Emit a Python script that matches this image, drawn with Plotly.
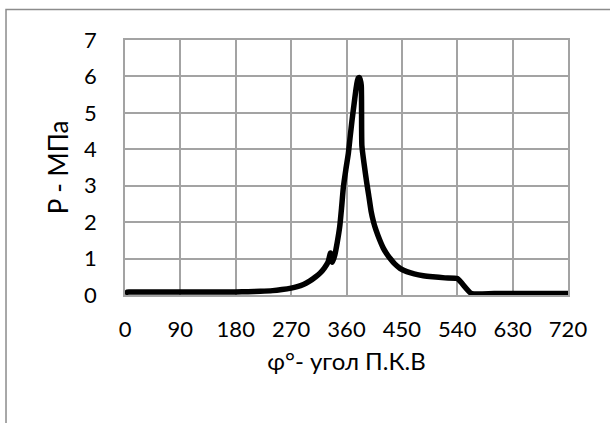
import plotly.graph_objects as go

# Crank angle (degrees) and cylinder pressure (MPa) over one engine cycle
phi = [0, 4, 10, 30, 60, 90, 120, 150, 180, 200, 220, 240, 255, 270, 280, 290,
       300, 310, 317, 324, 330, 334, 337, 341, 345, 349, 352, 355, 359, 363,
       366, 369, 372, 375, 377, 379, 381, 382, 384, 385, 389, 393, 396, 400,
       404, 408, 414, 420, 425, 431, 438, 447, 458, 470, 485, 500, 520, 540,
       563, 600, 660, 720]
pressure = [0.02, 0.08, 0.08, 0.08, 0.08, 0.08, 0.08, 0.08, 0.085, 0.09, 0.10,
            0.12, 0.15, 0.19, 0.23, 0.29, 0.38, 0.50, 0.60, 0.74, 0.90, 1.15,
            0.90, 1.10, 1.45, 1.88, 2.40, 2.97, 3.45, 3.89, 4.35, 4.80, 5.20,
            5.60, 5.82, 5.95, 5.97, 5.93, 5.75, 4.10, 3.55, 3.07, 2.75, 2.30,
            2.00, 1.78, 1.51, 1.28, 1.14, 1.00, 0.86, 0.73, 0.64, 0.58, 0.53,
            0.50, 0.47, 0.45, 0.04, 0.04, 0.04, 0.04]

x_ticks = [0, 90, 180, 270, 360, 450, 540, 630, 720]
y_ticks = [0, 1, 2, 3, 4, 5, 6, 7]

FONT = "Lato"
GRID = "#a3a3a3"

fig = go.Figure()
fig.add_trace(go.Scatter(
    x=phi, y=pressure, mode="lines",
    line=dict(color="black", width=5.5, shape="spline", smoothing=0.5),
    showlegend=False, hoverinfo="x+y",
))

fig.update_layout(
    width=610, height=423,
    margin=dict(l=125, r=42, t=40, b=128),
    paper_bgcolor="white", plot_bgcolor="white",
    font=dict(family=FONT, size=22, color="black"),
    xaxis=dict(
        range=[0, 720], tickvals=x_ticks, ticktext=[str(v) for v in x_ticks],
        showgrid=True, gridcolor=GRID, gridwidth=1.5,
        showline=True, linecolor=GRID, linewidth=1.5, mirror=True,
        ticks="outside", ticklen=14, tickcolor="rgba(0,0,0,0)",
        zeroline=False, tickfont=dict(size=22),
        title=dict(text="φ°- угол П.К.В", font=dict(size=24), standoff=12),
    ),
    yaxis=dict(
        range=[0, 7], tickvals=y_ticks, ticktext=[str(v) for v in y_ticks],
        showgrid=True, gridcolor=GRID, gridwidth=1.5,
        showline=True, linecolor=GRID, linewidth=1.5, mirror=True,
        ticks="outside", ticklen=22, tickcolor="rgba(0,0,0,0)",
        zeroline=False, tickfont=dict(size=22),
        title=dict(text="P - МПа", font=dict(size=26), standoff=8),
    ),
    shapes=[dict(
        type="rect", xref="paper", yref="paper",
        x0=-0.2686, x1=1.12, y0=-0.55, y1=1.1196,
        line=dict(color="#8c8c8c", width=1.5), fillcolor="rgba(0,0,0,0)",
        layer="below",
    )],
)

fig.write_html("out.html")
